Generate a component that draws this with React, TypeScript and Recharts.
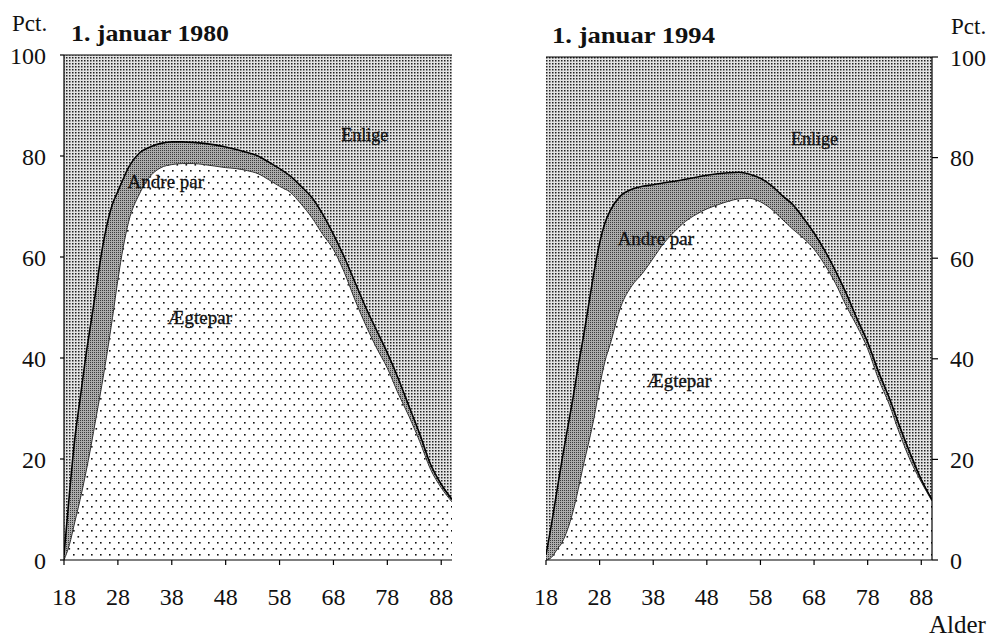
import React from 'react';
import {
  ComposedChart,
  Area,
  Line,
  XAxis,
  YAxis,
  ReferenceLine,
  ReferenceDot,
} from 'recharts';

// Age (years)
const ages = [18, 19, 20, 21, 22, 23, 24, 25, 26, 27, 28, 29, 30, 32, 34, 36, 38, 40, 42, 44, 46, 48, 50, 52, 54, 56, 58, 60, 62, 64, 66, 68, 70, 72, 74, 76, 78, 80, 82, 84, 86, 88, 90];

// 1. januar 1980 – share (%) living as married couples (Ægtepar)
const married1980 = [0, 3, 7.5, 12, 17, 22.5, 28.5, 34.5, 41, 48, 55.5, 62, 67, 72.5, 76, 77.7, 78.3, 78.5, 78.5, 78.3, 78, 77.7, 77.5, 77.1, 76.5, 75.3, 74, 72.8, 70.5, 67.8, 64.5, 61.5, 57, 51.5, 46.5, 42, 38, 33, 28.5, 23.5, 18, 14.3, 11.5];
// 1. januar 1980 – share (%) living in any couple (Ægtepar + Andre par)
const couples1980 = [1, 13, 24, 32, 40, 47, 54, 61, 66.5, 70.5, 73, 75.5, 77.8, 80.6, 81.8, 82.5, 82.8, 82.8, 82.7, 82.5, 82.2, 81.8, 81.3, 80.7, 80, 78.8, 77.5, 76, 74, 71.8, 68.5, 64.5, 60, 55, 50, 45.5, 41, 36, 30.5, 25, 19, 15, 12];

// 1. januar 1994
const married1994 = [0, 0.5, 2, 3.5, 6, 9.5, 14, 19, 23.5, 28.5, 34.5, 39.5, 43, 50.5, 54.5, 57, 60, 63, 65.3, 67.3, 68.7, 69.8, 70.6, 71.3, 71.8, 71.9, 71.2, 69.8, 67.8, 65.8, 64, 61.8, 58.7, 55, 50.5, 46.5, 42, 36, 31, 25, 19.7, 15.5, 11.7];
const couples1994 = [1, 7, 13.5, 20, 26, 32, 38.5, 44.5, 51, 57.5, 63, 67, 69.5, 72.5, 73.7, 74.3, 74.6, 75, 75.3, 75.7, 76.1, 76.5, 76.8, 77, 77.1, 76.7, 75.9, 74.5, 72.5, 70.7, 68, 65, 61.5, 57.5, 53, 48, 43.3, 37.5, 32.3, 26.5, 21, 16, 12];

const xTicks = [18, 28, 38, 48, 58, 68, 78, 88];
const yTicks = [0, 20, 40, 60, 80, 100];

const seriesNames = { aegtepar: 'Ægtepar', andre: 'Andre par', enlige: 'Enlige' };

const FONT = "'Liberation Serif', 'Times New Roman', serif";
const INK = '#111';

function buildRows(married: number[], couples: number[]) {
  return ages.map((age, i) => ({
    age,
    aegtepar: married[i],
    andre: +(couples[i] - married[i]).toFixed(2),
    enlige: +(100 - couples[i]).toFixed(2),
    married: married[i],
    couples: couples[i],
  }));
}

const XTick = (p: any) => (
  <text x={p.x} y={p.y} dy="0.71em" textAnchor="middle" fontSize={24} fontFamily={FONT} fill={INK}>
    {p.payload.value}
  </text>
);

const YTick = (p: any) => (
  <text x={p.x} y={p.y} dy="0.355em" textAnchor={p.textAnchor} fontSize={24} fontFamily={FONT} fill={INK}>
    {p.payload.value}
  </text>
);

type LabelPos = { x: number; y: number; text: string; size: number };

function Panel(props: {
  rows: any[];
  side: 'left' | 'right';
  width: number;
  height: number;
  margin: { top: number; right: number; bottom: number; left: number };
  labels: LabelPos[];
}) {
  const { rows, side, width, height, margin, labels } = props;
  const isLeft = side === 'left';
  return (
    <ComposedChart width={width} height={height} data={rows} margin={margin}>
      <XAxis
        dataKey="age"
        type="number"
        domain={[18, 90]}
        ticks={xTicks}
        allowDataOverflow
        height={50}
        tickSize={5}
        tickMargin={23}
        tick={<XTick />}
        axisLine={{ stroke: '#000', strokeWidth: 1.2 }}
        tickLine={{ stroke: '#000', strokeWidth: 1.2 }}
        interval={0}
      />
      <YAxis
        yAxisId="main"
        orientation={isLeft ? 'left' : 'right'}
        type="number"
        domain={[0, 100]}
        ticks={yTicks}
        width={isLeft ? 64 : 60}
        tickSize={isLeft ? 4 : 6}
        tickMargin={isLeft ? 14 : 12}
        tick={<YTick />}
        axisLine={{ stroke: '#000', strokeWidth: 1.2 }}
        tickLine={{ stroke: '#000', strokeWidth: 1.2 }}
        interval={0}
      />
      <YAxis
        yAxisId="border"
        orientation={isLeft ? 'right' : 'left'}
        type="number"
        domain={[0, 100]}
        width={0}
        tick={false}
        tickLine={false}
        axisLine={{ stroke: '#000', strokeWidth: 1.2 }}
      />
      <Area
        yAxisId="main"
        type="monotone"
        dataKey="aegtepar"
        name={seriesNames.aegtepar}
        stackId="s"
        fill="url(#patAegte)"
        fillOpacity={1}
        stroke="none"
        isAnimationActive={false}
      />
      <Area
        yAxisId="main"
        type="monotone"
        dataKey="andre"
        name={seriesNames.andre}
        stackId="s"
        fill="url(#patAndre)"
        fillOpacity={1}
        stroke="none"
        isAnimationActive={false}
      />
      <Area
        yAxisId="main"
        type="monotone"
        dataKey="enlige"
        name={seriesNames.enlige}
        stackId="s"
        fill="url(#patEnlige)"
        fillOpacity={1}
        stroke="none"
        isAnimationActive={false}
      />
      <Line
        yAxisId="main"
        type="monotone"
        dataKey="married"
        stroke="#333"
        strokeWidth={1}
        dot={false}
        activeDot={false}
        isAnimationActive={false}
      />
      <Line
        yAxisId="main"
        type="monotone"
        dataKey="couples"
        stroke="#000"
        strokeWidth={1.6}
        dot={false}
        activeDot={false}
        isAnimationActive={false}
      />
      <ReferenceLine yAxisId="main" y={100} stroke="#000" strokeWidth={1.2} />
      {labels.map((l) => (
        <ReferenceDot
          key={l.text}
          yAxisId="main"
          x={l.x}
          y={l.y}
          r={1}
          shape={(sp: any) => (
            <text
              x={sp.cx}
              y={sp.cy}
              dy="0.35em"
              textAnchor="middle"
              fontSize={l.size}
              fontFamily={FONT}
              fill={INK}
              stroke={INK}
              strokeWidth={0.3}
            >
              {l.text}
            </text>
          )}
        />
      ))}
    </ComposedChart>
  );
}

export default function App() {
  const rows1980 = buildRows(married1980, couples1980);
  const rows1994 = buildRows(married1994, couples1994);
  return (
    <div style={{ position: 'absolute', left: 0, top: 0, width: 1002, height: 639, background: '#fff', fontFamily: FONT }}>
      <svg width={0} height={0} style={{ position: 'absolute' }}>
        <defs>
          <pattern id="patEnlige" patternUnits="userSpaceOnUse" width={3} height={3}>
            <rect x={0} y={0} width={3} height={3} fill="#e4e4e4" />
            <rect x={0} y={0} width={1.5} height={1.5} fill="#222" />
          </pattern>
          <pattern id="patAndre" patternUnits="userSpaceOnUse" width={2} height={2}>
            <rect x={0} y={0} width={2} height={2} fill="#ababab" />
            <rect x={0} y={0} width={1} height={1} fill="#3a3a3a" />
          </pattern>
          <pattern id="patAegte" patternUnits="userSpaceOnUse" width={9} height={12}>
            <rect x={0} y={0} width={9} height={12} fill="#ffffff" />
            <rect x={1} y={2} width={1.6} height={1.6} fill="#111" />
            <rect x={5.5} y={8} width={1.6} height={1.6} fill="#111" />
          </pattern>
        </defs>
      </svg>

      <div style={{ position: 'absolute', left: 0, top: 0 }}>
        <Panel
          rows={rows1980}
          side="left"
          width={470}
          height={620}
          margin={{ top: 55, right: 18, bottom: 10, left: 0 }}
          labels={[
            { x: 73.8, y: 84.2, text: 'Enlige', size: 18 },
            { x: 36.9, y: 74.9, text: 'Andre par', size: 19 },
            { x: 43.2, y: 48.1, text: 'Ægtepar', size: 19 },
          ]}
        />
      </div>
      <div style={{ position: 'absolute', left: 480, top: 0 }}>
        <Panel
          rows={rows1994}
          side="right"
          width={520}
          height={620}
          margin={{ top: 57, right: 8, bottom: 10, left: 66 }}
          labels={[
            { x: 68.1, y: 83.8, text: 'Enlige', size: 18 },
            { x: 38.5, y: 64, text: 'Andre par', size: 19 },
            { x: 42.8, y: 35.8, text: 'Ægtepar', size: 19 },
          ]}
        />
      </div>

      <svg width={1002} height={639} style={{ position: 'absolute', left: 0, top: 0, pointerEvents: 'none' }}>
        <text x={12} y={31} fontSize={23} fill={INK} fontFamily={FONT}>Pct.</text>
        <text x={71} y={41} fontSize={24} fontWeight="bold" fill={INK} fontFamily={FONT} textLength={158} lengthAdjust="spacingAndGlyphs">1. januar 1980</text>
        <text x={552} y={43} fontSize={24} fontWeight="bold" fill={INK} fontFamily={FONT} textLength={163} lengthAdjust="spacingAndGlyphs">1. januar 1994</text>
        <text x={951} y={34} fontSize={23} fill={INK} fontFamily={FONT}>Pct.</text>
        <text x={929} y={633} fontSize={25} fill={INK} fontFamily={FONT}>Alder</text>
      </svg>
    </div>
  );
}
